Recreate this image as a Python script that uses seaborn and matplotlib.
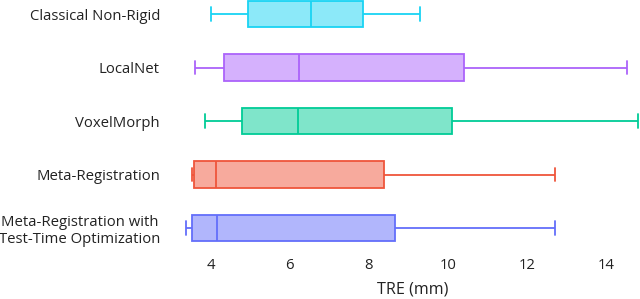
import matplotlib
matplotlib.use("Agg")
import matplotlib.pyplot as plt
import seaborn as sns
import pandas as pd

methods = ["Classical Non-Rigid", "LocalNet", "VoxelMorph", "Meta-Registration",
           "Meta-Registration with\nTest-Time Optimization"]
# five-number summaries: min, q1, median, q3, max
classical = [4.00, 4.93, 6.53, 7.86, 9.28]
localnet = [3.60, 4.34, 6.23, 10.40, 14.52]
voxelmorph = [3.85, 4.79, 6.20, 10.09, 14.81]
meta_reg = [3.52, 3.58, 4.14, 8.39, 12.70]
meta_reg_tto = [3.37, 3.51, 4.16, 8.67, 12.70]
edge_colors = ["#19D3F3", "#AB63FA", "#00CC96", "#EF553B", "#636EFA"]
fill_colors = ["#8CE9F9", "#D5B1FD", "#7FE5CA", "#F7AA9D", "#B1B6FC"]
x_ticks = [4, 6, 8, 10, 12, 14]

series = [classical, localnet, voxelmorph, meta_reg, meta_reg_tto]
df = pd.DataFrame([(m, v) for m, vals in zip(methods, series) for v in vals],
                  columns=["method", "tre"])

sns.set_theme(style="white")
plt.rcParams["font.family"] = ["Open Sans", "DejaVu Sans"]

fig = plt.figure(figsize=(6.4, 2.99), dpi=100)
ax = fig.add_axes([185 / 640, 49 / 299, 455 / 640, 250 / 299])

for m, fc, ec in zip(methods, fill_colors, edge_colors):
    sns.boxplot(data=df[df["method"] == m], x="tre", y="method", order=methods,
                color=fc, linecolor=ec, saturation=1, width=0.5, whis=(0, 100),
                linewidth=1.3, showfliers=False, ax=ax)

ax.set_xlim(3.345, 14.86)
ax.set_ylim(4.41, -0.262)
ax.set_xticks(x_ticks)
ax.set_xticklabels([str(t) for t in x_ticks])
ax.set_ylabel("")
ax.set_xlabel("TRE (mm)", fontsize=11.6, color="#222222", labelpad=6)
ax.tick_params(axis="both", length=0, labelsize=10.7, colors="#222222")
ax.tick_params(axis="y", pad=18)
ax.tick_params(axis="x", pad=6)
for lbl in ax.get_yticklabels():
    lbl.set_multialignment("center")
for s in ax.spines.values():
    s.set_visible(False)
ax.grid(False)

fig.savefig("out.png", dpi=100)
